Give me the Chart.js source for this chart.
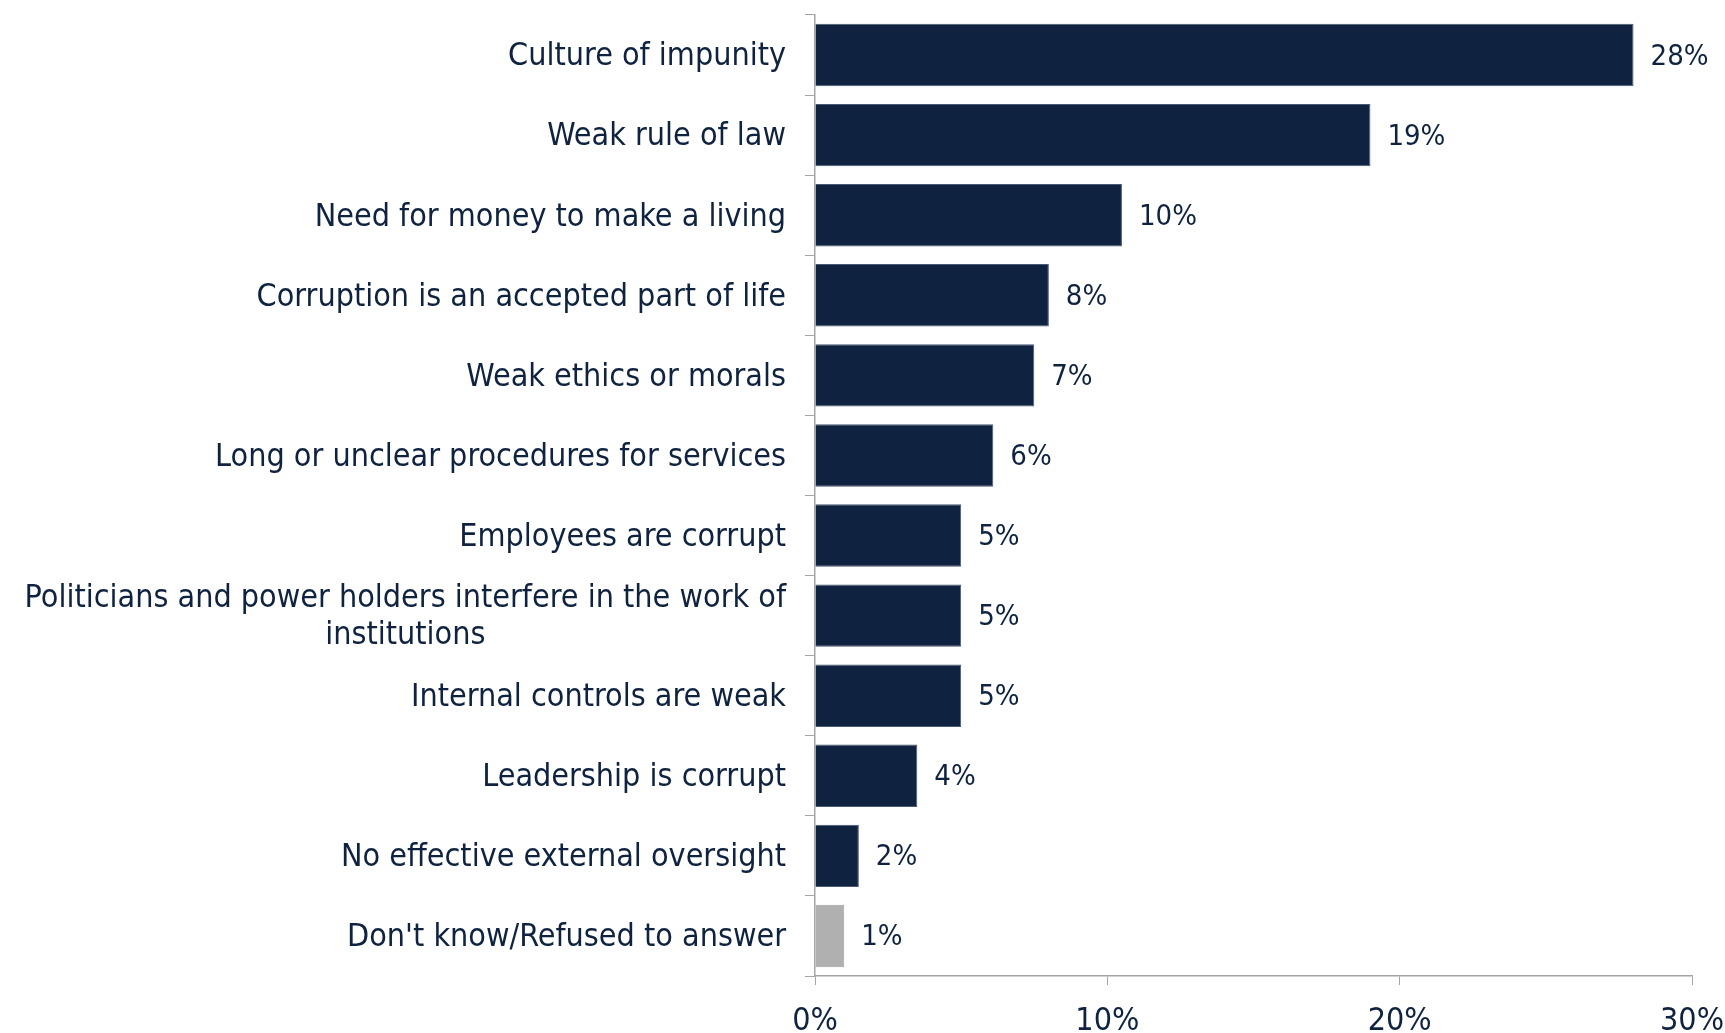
<!DOCTYPE html>
<html>
<head>
<meta charset="utf-8">
<script src="https://cdn.jsdelivr.net/npm/chart.js@4.4.0/dist/chart.umd.min.js"></script>
<style>
  html, body { margin: 0; padding: 0; background: #fff; }
  #wrap { width: 1725px; height: 1033px; position: relative; }
</style>
</head>
<body>
<div id="wrap"><canvas id="reasons"></canvas></div>
<script>
// Categories (top to bottom)
const categories = [
    'Culture of impunity',
    'Weak rule of law',
    'Need for money to make a living',
    'Corruption is an accepted part of life',
    'Weak ethics or morals',
    'Long or unclear procedures for services',
    'Employees are corrupt',
    ['Politicians and power holders interfere in the work of', 'institutions'],
    'Internal controls are weak',
    'Leadership is corrupt',
    'No effective external oversight',
    "Don't know/Refused to answer"
];
// Share of respondents (%)
const shares = [28, 19, 10.5, 8, 7.5, 6.1, 5, 5, 5, 3.5, 1.5, 1];
// Labels printed at bar ends
const shareLabels = ['28%', '19%', '10%', '8%', '7%', '6%', '5%', '5%', '5%', '4%', '2%', '1%'];
const xTicks = [0, 10, 20, 30];

const NAVY = '#0f2340';
const GREY = '#b0b0b0';
const AXIS = '#a6a6a6';
const FONT = '"DejaVu Sans Condensed", "DejaVu Sans", sans-serif';

const barColors = categories.map((c, i) => i === categories.length - 1 ? GREY : NAVY);
const borderColors = categories.map((c, i) => i === categories.length - 1 ? '#a0a0a0' : '#4a5a72');

// Draws the category labels: first line right aligned, extra lines centred under it
const categoryLabels = {
    id: 'categoryLabels',
    afterDraw(chart) {
        const ctx = chart.ctx;
        const y = chart.scales.y;
        const right = chart.chartArea.left - 29;
        const lh = 37;
        ctx.save();
        ctx.fillStyle = NAVY;
        ctx.font = '32px ' + FONT;
        ctx.textBaseline = 'middle';
        categories.forEach((cat, i) => {
            const lines = Array.isArray(cat) ? cat : [cat];
            const cy = y.getPixelForValue(i) + 2;
            const top = cy - (lines.length - 1) * lh / 2;
            const w0 = ctx.measureText(lines[0]).width;
            lines.forEach((ln, k) => {
                if (k === 0) {
                    ctx.textAlign = 'right';
                    ctx.fillText(ln, right, top);
                } else {
                    ctx.textAlign = 'center';
                    ctx.fillText(ln, right - w0 / 2, top + k * lh);
                }
            });
        });
        ctx.restore();
    }
};

// Value labels at the end of each bar
const valueLabels = {
    id: 'valueLabels',
    afterDatasetsDraw(chart) {
        const ctx = chart.ctx;
        const meta = chart.getDatasetMeta(0);
        ctx.save();
        ctx.fillStyle = NAVY;
        ctx.font = '29px ' + FONT;
        ctx.textAlign = 'left';
        ctx.textBaseline = 'middle';
        meta.data.forEach((bar, i) => {
            ctx.fillText(shareLabels[i], bar.x + 17, bar.y + 2);
        });
        ctx.restore();
    }
};

new Chart(document.getElementById('reasons'), {
    type: 'bar',
    data: {
        labels: categories,
        datasets: [{
            data: shares,
            backgroundColor: barColors,
            borderColor: borderColors,
            borderWidth: 1,
            barPercentage: 0.78,
            categoryPercentage: 1
        }]
    },
    options: {
        indexAxis: 'y',
        responsive: true,
        maintainAspectRatio: false,
        animation: false,
        layout: { padding: { top: 15, right: 33, left: 0, bottom: 0 } },
        plugins: {
            legend: { display: false },
            tooltip: { enabled: false }
        },
        scales: {
            x: {
                min: 0,
                max: 30,
                afterBuildTicks(scale) {
                    scale.ticks = xTicks.map(v => ({ value: v }));
                },
                afterFit(scale) {
                    scale.height = 57;
                    scale.paddingRight = 0;
                    scale.paddingLeft = 0;
                },
                border: { color: AXIS, width: 1.5 },
                grid: { drawOnChartArea: false, drawTicks: true, tickLength: 9, color: AXIS, lineWidth: 1 },
                ticks: {
                    padding: 17,
                    color: NAVY,
                    font: { family: FONT, size: 32 },
                    callback: v => v + '%'
                }
            },
            y: {
                afterFit(scale) { scale.width = 815; },
                border: { color: AXIS, width: 1.5 },
                grid: { drawOnChartArea: false, drawTicks: true, tickLength: 10, color: AXIS, lineWidth: 1, offset: true },
                ticks: { display: false }
            }
        }
    },
    plugins: [categoryLabels, valueLabels]
});
</script>
</body>
</html>
